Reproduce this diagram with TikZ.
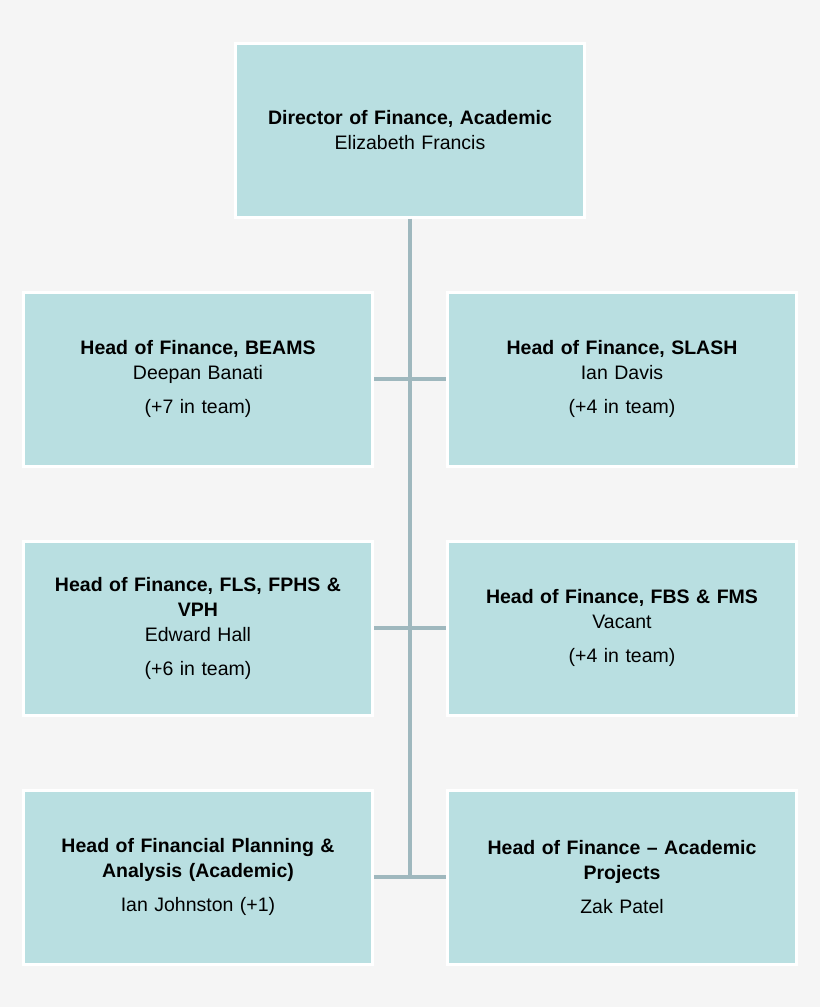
\documentclass[tikz,border=0pt]{standalone}
\usepackage{fontspec}
\setmainfont{Liberation Sans}
\usetikzlibrary{positioning}
\definecolor{boxfill}{HTML}{B9DFE1}
\definecolor{linecol}{HTML}{9FB8BE}
\definecolor{bgcol}{HTML}{F5F5F5}
\tikzset{
  post/.style={draw=white, line width=3pt, fill=boxfill, minimum width=349pt,
    minimum height=174pt, text width=335pt, align=center,
    font=\fontsize{19.5pt}{25pt}\selectfont, inner sep=0pt},
  link/.style={draw=linecol, line width=3.5pt}
}
\begin{document}
\begin{tikzpicture}[x=1pt,y=-1pt]
  % background
  \fill[bgcol] (0,0) rectangle (820,1007);
  \useasboundingbox (0,0) rectangle (820,1007);
  % connectors first, boxes on top
  \coordinate (trunk top) at (410,217);
  \coordinate (trunk end) at (410,877);
  \node[post] (director) at (410,130) {\textbf{Director of Finance, Academic}\\Elizabeth Francis};
  \node[post] (beams) at (198,379) {\textbf{Head of Finance, BEAMS}\\Deepan Banati\\[9pt](+7 in team)};
  \node[post] (slash) at (622,379) {\textbf{Head of Finance, SLASH}\\Ian Davis\\[9pt](+4 in team)};
  \node[post] (fls) at (198,628) {\textbf{Head of Finance, FLS, FPHS \&}\\\textbf{VPH}\\Edward Hall\\[9pt](+6 in team)};
  \node[post] (fbs) at (622,628) {\textbf{Head of Finance, FBS \& FMS}\\Vacant\\[9pt](+4 in team)};
  \node[post] (fpa) at (198,877) {\textbf{Head of Financial Planning \&}\\\textbf{Analysis (Academic)}\\[9pt]Ian Johnston (+1)};
  \node[post] (projects) at (622,877) {\textbf{Head of Finance -- Academic}\\\textbf{Projects}\\[9pt]Zak Patel};
  % org lines
  \draw[link] (director.south) -- (trunk end);
  \draw[link] (beams.east) -- (slash.west);
  \draw[link] (fls.east) -- (fbs.west);
  \draw[link] (fpa.east) -- (projects.west);
\end{tikzpicture}
\end{document}
